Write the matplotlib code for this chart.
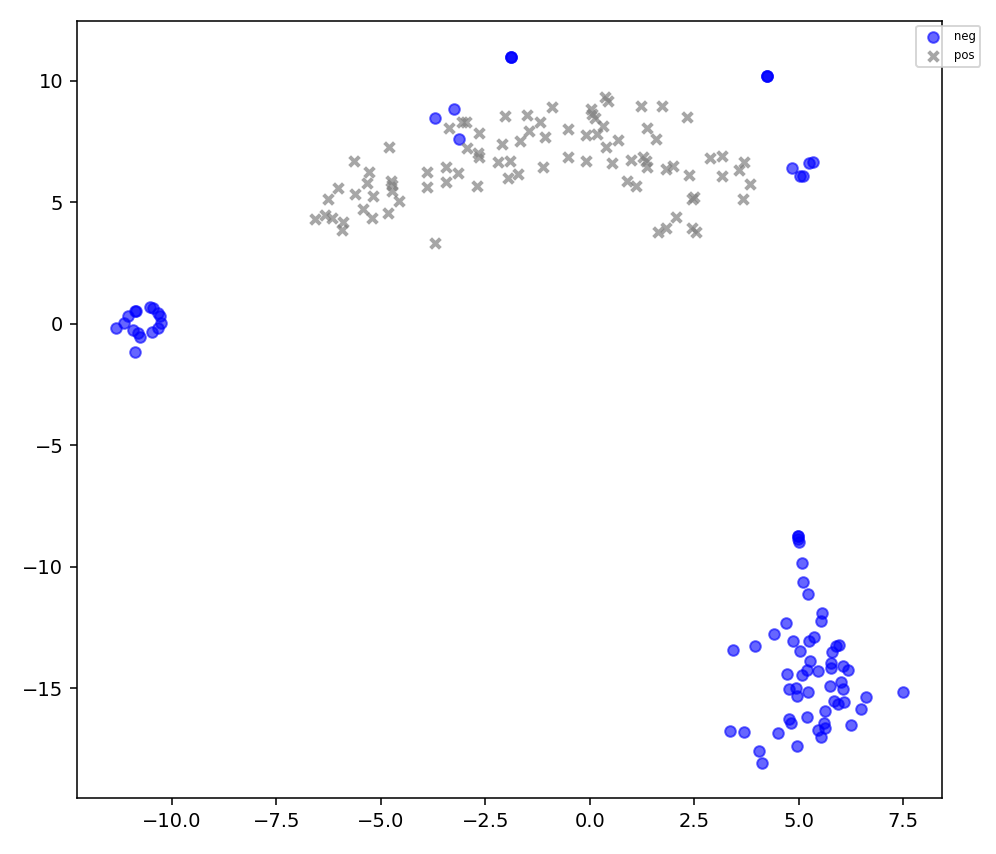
import numpy as np
from matplotlib import pyplot as plt

# negative class (blue circles)
neg_x = [-1.891, -1.891, -1.891, -3.242, -3.711, -3.122, 4.245, 4.245, 4.245,
         4.850, 5.035, 5.107, 5.257, 5.353,
         -11.348, -11.142, -11.046, -10.886, -10.850, -10.927, -10.807, -10.766, -10.886,
         -10.527, -10.448, -10.328, -10.287, -10.263, -10.328, -10.472,
         4.980, 4.980, 5.011, 4.994, 5.090, 5.114, 5.219, 5.554, 5.530, 4.692,
         4.419, 4.860, 5.257, 5.370, 5.897, 5.968, 3.438, 3.957, 5.035, 5.808,
         5.274, 5.777, 5.777, 6.071, 6.191, 4.716, 5.090, 5.209, 5.458, 4.779,
         4.939, 4.970, 5.233, 5.753, 6.009, 6.071, 6.608, 7.508, 5.856, 5.952,
         6.088, 6.495, 5.640, 4.779, 4.812, 5.209, 5.616, 5.633, 5.473, 5.530,
         6.249, 3.359, 3.694, 4.515, 4.970, 4.060, 4.118]
neg_y = [11.001, 11.001, 11.001, 8.834, 8.488, 7.591, 10.206, 10.206, 10.206,
         6.405, 6.087, 6.087, 6.610, 6.652,
         -0.161, 0.021, 0.321, 0.540, 0.507, -0.255, -0.391, -0.531, -1.149,
         0.704, 0.638, 0.457, 0.321, 0.021, -0.185, -0.325,
         -8.740, -8.740, -8.999, -8.863, -9.864, -10.622, -11.129, -11.923, -12.228, -12.335,
         -12.788, -13.052, -13.044, -12.887, -13.258, -13.229, -13.435, -13.270, -13.456, -13.505,
         -13.876, -13.958, -14.189, -14.094, -14.259, -14.423, -14.465, -14.259, -14.288, -15.054,
         -15.012, -15.330, -15.152, -14.918, -14.741, -15.041, -15.358, -15.152, -15.535, -15.659,
         -15.589, -15.877, -15.935, -16.277, -16.454, -16.182, -16.454, -16.660, -16.730, -17.030,
         -16.524, -16.759, -16.800, -16.841, -17.389, -17.595, -18.101]

# positive class (grey crosses)
pos_x = [-4.805, -5.636, -5.277, -5.339, -6.019, -6.272, -5.619, -5.195, -4.764, -4.740,
         -4.726, -4.565, -5.435, -5.219, -4.822, -6.576, -6.337, -6.162, -5.913, -5.937,
         -3.902, -3.447, -3.160, -3.447, -3.902, -3.704, -2.945, -3.368, -0.895, -2.028,
         -1.508, -1.190, -3.064, -2.961, -2.643, -1.453, -1.669, -1.063, -0.512, -0.096,
         0.168, 0.031, 0.062, 0.127, -2.092, -2.681, -2.643, -2.188, -1.908, -1.111,
         -0.512, -0.096, -2.691, -1.963, -1.724, 0.366, 0.445, 0.311, 1.228, 1.724,
         2.322, 1.365, 1.580, 0.670, 0.390, 0.527, 0.982, 1.283, 1.341, 1.365,
         1.827, 1.987, 2.377, 0.886, 1.108, 2.880, 3.175, 3.701, 3.574, 3.160,
         3.838, 3.677, 2.504, 2.456, 2.059, 1.827, 1.628, 2.442, 2.538]
pos_y = [7.294, 6.717, 6.264, 5.787, 5.581, 5.140, 5.346, 5.276, 5.894, 5.717,
         5.482, 5.070, 4.728, 4.370, 4.576, 4.304, 4.481, 4.345, 4.205, 3.863,
         6.264, 6.470, 6.223, 5.828, 5.622, 3.315, 7.228, 8.064, 8.941, 8.558,
         8.600, 8.299, 8.324, 8.299, 7.871, 7.953, 7.541, 7.681, 8.011, 7.776,
         7.817, 8.847, 8.641, 8.464, 7.393, 7.047, 6.857, 6.652, 6.717, 6.470,
         6.882, 6.705, 5.688, 6.017, 6.157, 9.329, 9.189, 8.147, 8.970, 8.970,
         8.530, 8.052, 7.599, 7.570, 7.269, 6.610, 6.746, 6.857, 6.717, 6.470,
         6.363, 6.499, 6.129, 5.894, 5.675, 6.816, 6.923, 6.676, 6.334, 6.087,
         5.758, 5.128, 5.210, 5.128, 4.411, 3.958, 3.769, 3.958, 3.769]

fig = plt.figure(figsize=(997 / 140, 854 / 140), dpi=140)
ax = fig.add_axes([77 / 997, 1 - 798 / 854, (942 - 77) / 997, (798 - 21) / 854])

ax.scatter(neg_x, neg_y, c='b', marker='o', s=30, alpha=0.6, label='neg')
ax.scatter(pos_x, pos_y, c='grey', marker='x', s=25, linewidths=2, alpha=0.7, label='pos')

ax.set_xlim(-12.27, 8.43)
ax.set_ylim(-19.53, 12.47)
ax.set_xticks(np.arange(-10, 7.6, 2.5))
ax.set_yticks([-15, -10, -5, 0, 5, 10])

ax.legend(loc='upper right', bbox_to_anchor=(1.044, 0.994), borderaxespad=0, fontsize=6)

plt.savefig('out.png', dpi=140)
